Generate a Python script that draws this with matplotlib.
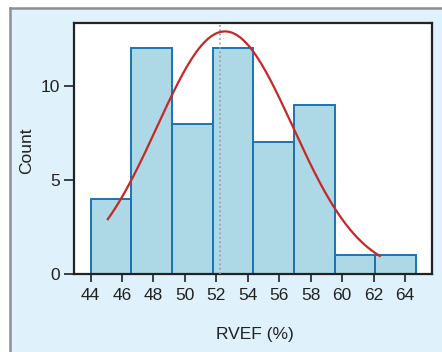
import numpy as np
import matplotlib.pyplot as plt
from matplotlib.patches import Rectangle
from matplotlib.lines import Line2D

plt.rcParams['font.family'] = ['Liberation Sans', 'DejaVu Sans']

# Histogram data
bin_edges = np.linspace(44.0, 64.7, 9)
counts = [4, 12, 8, 12, 7, 9, 1, 1]

# Fitted normal curve parameters
fit_mean = 52.55
fit_sd = 4.32
fit_range = (45.1, 62.4)
n_total = sum(counts)

# Reference line (mean)
ref_x = 52.25

xticks = [44, 46, 48, 50, 52, 54, 56, 58, 60, 62, 64]
yticks = [0, 5, 10]

fig = plt.figure(figsize=(4.42, 3.52), dpi=100)
fig.patch.set_facecolor('white')
fig.add_artist(Rectangle((0.0226, 0), 1, 0.977, transform=fig.transFigure,
                         facecolor='#dff1fb', edgecolor='none', zorder=-10))
fig.add_artist(Line2D([0.0226, 1], [0.977, 0.977], transform=fig.transFigure,
                      color='#8f8f8f', lw=1.8))
fig.add_artist(Line2D([0.0226, 0.0226], [0, 0.977], transform=fig.transFigure,
                      color='#8f8f8f', lw=1.8))

ax = fig.add_axes([0.1674, 0.2216, 0.81, 0.7131])
ax.set_facecolor('white')

widths = np.diff(bin_edges)
ax.bar(bin_edges[:-1], counts, width=widths, align='edge',
       facecolor='#add8e6', edgecolor='#1a74b4', linewidth=1.4, zorder=2)

ax.axvline(ref_x, color='#9a9a9a', linestyle=':', linewidth=1.2, zorder=3)

xs = np.linspace(fit_range[0], fit_range[1], 200)
bw = widths[0]
ys = n_total * bw / (fit_sd * np.sqrt(2 * np.pi)) * np.exp(-0.5 * ((xs - fit_mean) / fit_sd) ** 2)
ax.plot(xs, ys, color='#c62828', linewidth=1.6, zorder=4)

ax.set_xlim(42.95, 65.72)
ax.set_ylim(0, 13.35)
ax.set_xticks(xticks)
ax.set_yticks(yticks)
ax.tick_params(labelsize=12.5, width=1.2, colors='#222222')
ax.tick_params(axis='x', length=5.8, pad=4.5)
ax.tick_params(axis='y', length=7.2, pad=3)
for s in ax.spines.values():
    s.set_linewidth(1.6)
    s.set_color('#222222')

ax.set_xlabel('RVEF (%)', fontsize=12.5, color='#222222')
ax.set_ylabel('Count', fontsize=12.5, color='#222222')
ax.xaxis.set_label_coords(0.506, -0.242)
ax.yaxis.set_label_coords(-0.131, 0.49)
ax.xaxis.label.set_va('center')
ax.yaxis.label.set_va('center')

fig.savefig('out.png', dpi=100)
